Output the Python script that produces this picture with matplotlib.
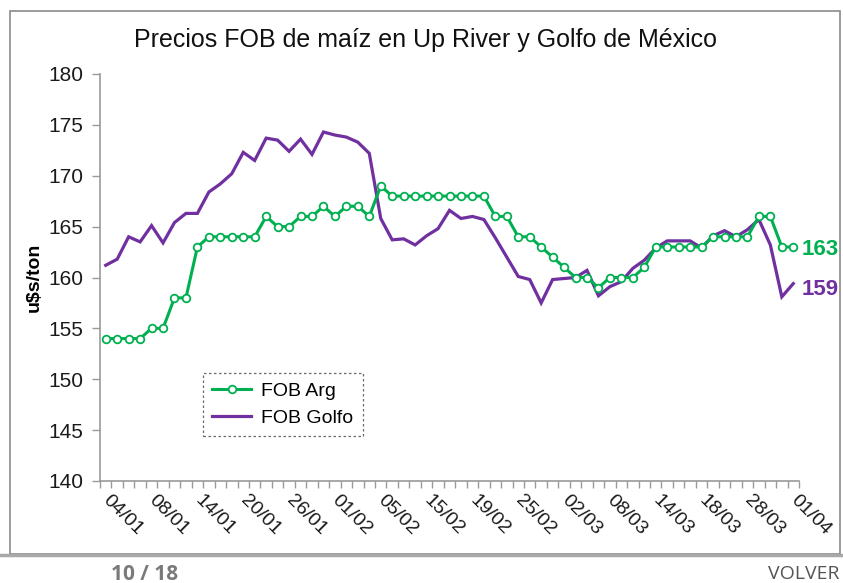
import matplotlib
matplotlib.use("Agg")
import matplotlib.pyplot as plt
from matplotlib.lines import Line2D
from matplotlib.patches import Rectangle

# Data (61 trading days, every 4th one labelled)
date_labels = ["04/01", "08/01", "14/01", "20/01", "26/01", "01/02", "05/02", "15/02",
               "19/02", "25/02", "02/03", "08/03", "14/03", "18/03", "28/03", "01/04"]
label_step = 4

fob_arg = [154, 154, 154, 154, 155, 155, 158, 158, 163, 164,
           164, 164, 164, 164, 166, 165, 165, 166, 166, 167,
           166, 167, 167, 166, 169, 168, 168, 168, 168, 168,
           168, 168, 168, 168, 166, 166, 164, 164, 163, 162,
           161, 160, 160, 159, 160, 160, 160, 161, 163, 163,
           163, 163, 163, 164, 164, 164, 164, 166, 166, 163,
           163]

fob_golfo = [161.2, 161.8, 164.0, 163.5, 165.1, 163.4, 165.4, 166.3, 166.3, 168.4,
             169.2, 170.2, 172.3, 171.5, 173.7, 173.5, 172.4, 173.6, 172.1, 174.3,
             174.0, 173.8, 173.3, 172.2, 165.8, 163.7, 163.8, 163.2, 164.1, 164.8,
             166.6, 165.8, 166.0, 165.7, 163.9, 162.0, 160.1, 159.8, 157.5, 159.8,
             159.9, 160.0, 160.7, 158.2, 159.1, 159.6, 160.9, 161.7, 162.9, 163.6,
             163.6, 163.6, 162.9, 164.1, 164.6, 164.0, 164.7, 165.7, 163.2, 158.1,
             159.4]

GREEN = "#00b050"
PURPLE = "#7030a0"
AXIS_GREY = "#9a9a9a"
FONT = ["Liberation Sans", "DejaVu Sans"]

plt.rcParams["font.family"] = FONT

fig = plt.figure(figsize=(8.43, 5.83), dpi=100)
W, H = 843, 583
ax = fig.add_axes([100 / W, 1 - 481 / H, (799 - 100) / W, (481 - 74) / H])

x = list(range(len(fob_arg)))
ax.plot(x, fob_golfo, color=PURPLE, lw=2.3, solid_joinstyle="miter", zorder=2)
ax.plot(x, fob_arg, color=GREEN, lw=2.2, marker="o", markersize=5.5,
        markerfacecolor="white", markeredgecolor=GREEN, markeredgewidth=1.3, zorder=3)

ax.set_xlim(-0.5, len(x) - 0.5)
ax.set_ylim(140, 180)
ax.set_yticks(range(140, 181, 5))
ax.tick_params(axis="y", labelsize=15, length=6, width=1, color=AXIS_GREY,
               labelcolor="#1a1a1a", pad=6)

ax.set_xticks(range(0, len(x), label_step))
ax.set_xticklabels(date_labels, rotation=-45, ha="left", va="center",
                   rotation_mode="anchor", fontsize=14, color="#1a1a1a")
ax.tick_params(axis="x", which="major", length=0, pad=12)
ax.set_xticks([i - 0.5 for i in range(len(x) + 1)], minor=True)
ax.tick_params(axis="x", which="minor", length=5, width=1, color=AXIS_GREY)

for side in ("top", "right"):
    ax.spines[side].set_visible(False)
for side in ("left", "bottom"):
    ax.spines[side].set_color(AXIS_GREY)
    ax.spines[side].set_linewidth(1.2)

ax.set_ylabel("u$s/ton", fontsize=14, fontweight="bold", labelpad=4)

# end values
ax.annotate(f"{fob_arg[-1]:.0f}", (x[-1], fob_arg[-1]), xytext=(6, -2),
            textcoords="offset points", va="center", ha="left", fontsize=16,
            fontweight="bold", color=GREEN, annotation_clip=False)
ax.annotate(f"{fob_golfo[-1]:.0f}", (x[-1], fob_golfo[-1]), xytext=(6, -4),
            textcoords="offset points", va="center", ha="left", fontsize=16,
            fontweight="bold", color=PURPLE, annotation_clip=False)

handles = [
    Line2D([], [], color=GREEN, lw=2.2, marker="o", markersize=5.5,
           markerfacecolor="white", markeredgecolor=GREEN, markeredgewidth=1.3),
    Line2D([], [], color=PURPLE, lw=2.3),
]
leg = ax.legend(handles, ["FOB Arg", "FOB Golfo"], loc="lower left",
                bbox_to_anchor=(0.147, 0.11), fontsize=14, frameon=True,
                fancybox=False, handlelength=2.0, handletextpad=0.5,
                borderpad=0.5, labelspacing=0.45, borderaxespad=0)
frame = leg.get_frame()
frame.set_edgecolor("#444444")
frame.set_linestyle((0, (2, 2)))
frame.set_linewidth(0.9)

fig.text(425 / W, 1 - 40 / H, "Precios FOB de maíz en Up River y Golfo de México",
         ha="center", va="center", fontsize=18, color="#111111")

# page frame and footer
fig.patches.append(Rectangle((10 / W, 1 - 554 / H), (840 - 10) / W, (554 - 11) / H,
                             transform=fig.transFigure, fill=False,
                             edgecolor="#8a8a8a", lw=1.2))
fig.add_artist(Line2D([0, 1], [1 - 555 / H, 1 - 555 / H], transform=fig.transFigure,
                      color="#a8a8a8", lw=2.5))
fig.text(145 / W, 1 - 574 / H, "10 / 18", ha="center", va="center", fontsize=15,
         fontweight="bold", color="#7a7a7a", family=["Open Sans", "DejaVu Sans"])
fig.text(840 / W, 1 - 574 / H, "VOLVER", ha="right", va="center", fontsize=14,
         color="#555555", family=["Open Sans", "DejaVu Sans"])

fig.savefig("out.png", dpi=100)
